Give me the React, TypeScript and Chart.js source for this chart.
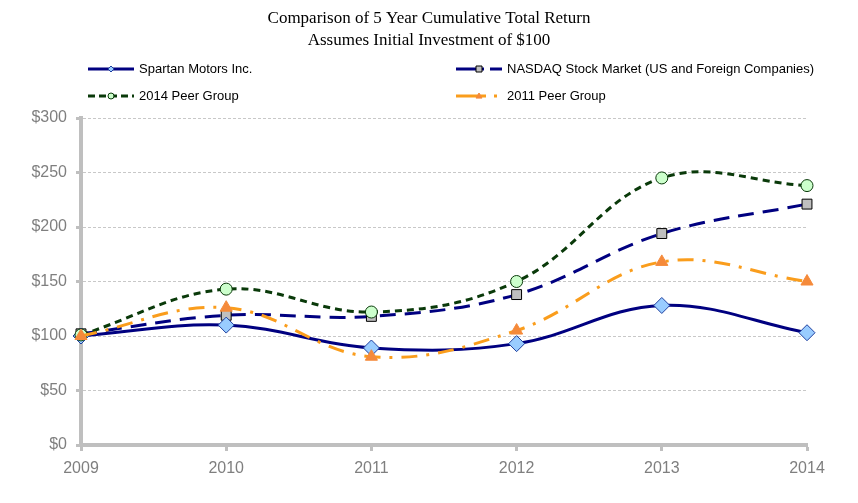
import React, { useEffect, useRef } from "react";
import { Chart, registerables } from "chart.js";
Chart.register(...registerables);

const years = ["2009", "2010", "2011", "2012", "2013", "2014"];
const spartan = [100, 110, 89, 93, 128, 103];
const nasdaq = [102, 119, 118, 138, 194, 221];
const peer2014 = [101, 143, 122, 150, 245, 238];
const peer2011 = [100, 126, 81, 105, 168, 150];
const seriesNames = [
  "Spartan Motors Inc.",
  "NASDAQ Stock Market (US and Foreign Companies)",
  "2014 Peer Group",
  "2011 Peer Group",
];
const titleLines = [
  "Comparison of 5 Year Cumulative Total Return",
  "Assumes Initial Investment of $100",
];
const yMin = 0;
const yMax = 300;
const yStep = 50;

const SANS = "'Liberation Sans', Arial, sans-serif";

const legendSlots = [
  { x: 88, y: 69 },
  { x: 456, y: 69 },
  { x: 88, y: 96 },
  { x: 456, y: 96 },
];

const headerPlugin = {
  id: "header",
  afterDraw(chart: any) {
    const ctx = chart.ctx;
    ctx.save();
    ctx.fillStyle = "#000";
    ctx.font = "17px 'Liberation Serif', 'Times New Roman', serif";
    ctx.textAlign = "center";
    ctx.textBaseline = "middle";
    titleLines.forEach((t, i) => ctx.fillText(t, 429, 19 + i * 22));
    chart.data.datasets.forEach((ds: any, i: number) => {
      const s = legendSlots[i];
      ctx.save();
      ctx.strokeStyle = ds.borderColor;
      ctx.lineWidth = 3;
      ctx.setLineDash(ds.legendDash || []);
      ctx.beginPath();
      ctx.moveTo(s.x, s.y);
      ctx.lineTo(s.x + 46, s.y);
      ctx.stroke();
      ctx.setLineDash([]);
      ctx.fillStyle = ds.pointBackgroundColor;
      ctx.strokeStyle = ds.pointBorderColor;
      ctx.lineWidth = 1;
      const mx = s.x + 23;
      const my = s.y;
      const r = 3;
      ctx.beginPath();
      if (ds.pointStyle === "rectRot") {
        ctx.moveTo(mx, my - r); ctx.lineTo(mx + r, my); ctx.lineTo(mx, my + r); ctx.lineTo(mx - r, my); ctx.closePath();
      } else if (ds.pointStyle === "rect") {
        ctx.rect(mx - r, my - r, 2 * r, 2 * r);
      } else if (ds.pointStyle === "triangle") {
        ctx.moveTo(mx, my - r); ctx.lineTo(mx + r, my + r * 0.7); ctx.lineTo(mx - r, my + r * 0.7); ctx.closePath();
      } else {
        ctx.arc(mx, my, r, 0, Math.PI * 2);
      }
      ctx.fill();
      ctx.stroke();
      ctx.restore();
      ctx.fillStyle = "#000";
      ctx.font = "13px " + SANS;
      ctx.textAlign = "left";
      ctx.textBaseline = "middle";
      ctx.fillText(ds.label, s.x + 51, s.y);
    });
    ctx.restore();
  },
};

export default function App() {
  const ref = useRef<HTMLCanvasElement>(null);
  useEffect(() => {
    document.body.style.margin = "0";
    const chart = new Chart(ref.current!, {
      type: "line",
      data: {
        labels: years,
        datasets: [
          {
            label: seriesNames[0],
            data: spartan,
            borderColor: "#000080",
            borderWidth: 3,
            pointStyle: "rectRot",
            pointRadius: 8,
            pointBackgroundColor: "#99ccff",
            pointBorderColor: "#1f3f9f",
            pointBorderWidth: 1,
            order: 2,
            legendDash: [],
          } as any,
          {
            label: seriesNames[1],
            data: nasdaq,
            borderColor: "#000080",
            borderWidth: 3,
            borderDash: [16, 9],
            pointStyle: "rect",
            pointRadius: 7,
            pointBackgroundColor: "#bfbfbf",
            pointBorderColor: "#000000",
            pointBorderWidth: 1,
            order: 3,
            legendDash: [28, 6, 12, 0],
          } as any,
          {
            label: seriesNames[2],
            data: peer2014,
            borderColor: "#0a3a0a",
            borderWidth: 3,
            borderDash: [7, 5],
            pointStyle: "circle",
            pointRadius: 6,
            pointBackgroundColor: "#ccffcc",
            pointBorderColor: "#0a3a0a",
            pointBorderWidth: 1,
            order: 1,
            legendDash: [7, 4],
          } as any,
          {
            label: seriesNames[3],
            data: peer2011,
            borderColor: "#fa9d1c",
            borderWidth: 3,
            borderDash: [16, 9, 3, 9],
            pointStyle: "triangle",
            pointRadius: 7,
            pointBackgroundColor: "#f58a3a",
            pointBorderColor: "#f58a3a",
            pointBorderWidth: 1,
            order: 0,
            legendDash: [30, 8, 3, 20],
          } as any,
        ],
      },
      options: {
        animation: false,
        responsive: false,
        maintainAspectRatio: false,
        layout: { padding: { top: 118, left: 0, right: 51, bottom: 0 } },
        elements: { line: { tension: 0.38 } },
        datasets: { line: { clip: false } as any },
        plugins: {
          legend: { display: false },
          title: { display: false },
          tooltip: { enabled: false },
        },
        scales: {
          x: {
            offset: false,
            grid: {
              drawOnChartArea: false,
              drawTicks: true,
              tickLength: 6,
              tickWidth: 3,
              tickColor: "#bfbfbf",
            },
            border: { display: true, width: 4, color: "#bfbfbf" },
            ticks: {
              color: "#7f7f7f",
              font: { family: SANS, size: 16 },
              padding: 8,
              maxRotation: 0,
            },
            afterFit(scale: any) {
              scale.height = 58;
            },
          },
          y: {
            min: yMin,
            max: yMax,
            grid: {
              color: "#c8c8c8",
              lineWidth: 1,
              drawTicks: true,
              tickLength: 5,
              tickColor: "#bfbfbf",
              tickWidth: 3,
            } as any,
            border: { display: true, width: 4, color: "#bfbfbf", dash: [3, 2] } as any,
            ticks: {
              stepSize: yStep,
              color: "#7f7f7f",
              font: { family: SANS, size: 16 },
              padding: 9,
              callback: (v: any) => "$" + v,
            },
            afterFit(scale: any) {
              scale.width = 81;
            },
          },
        },
      },
      plugins: [headerPlugin],
    });
    return () => chart.destroy();
  }, []);
  return <canvas ref={ref} width={858} height={503} style={{ display: "block" }} />;
}
